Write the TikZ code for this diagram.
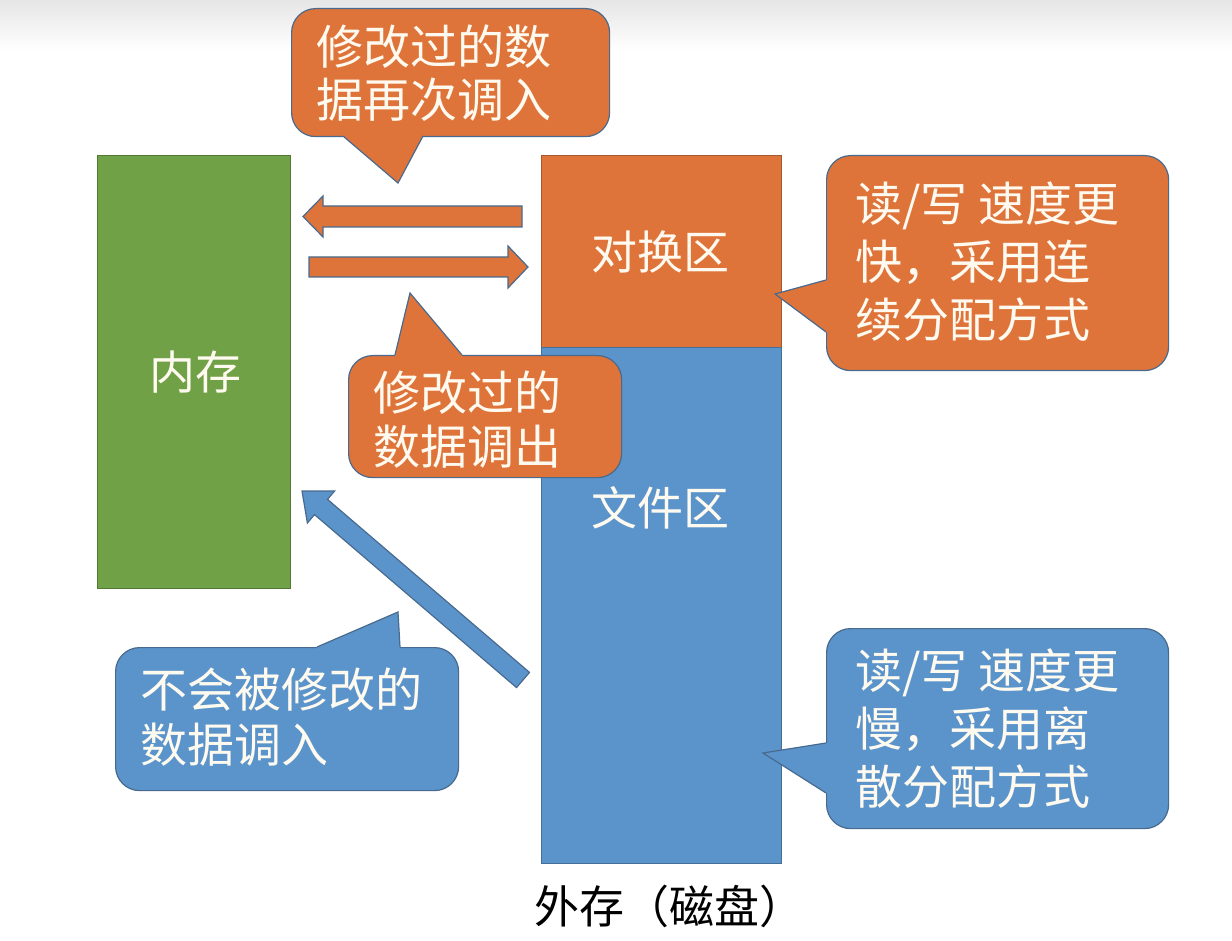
\documentclass[tikz,border=0pt]{standalone}
\usepackage{fontspec}
\setmainfont{Noto Sans CJK SC}
\newfontfamily\cjk{Noto Sans CJK SC}
\definecolor{org}{RGB}{223,116,58}
\definecolor{grn}{RGB}{112,161,70}
\definecolor{blu}{RGB}{91,148,202}
\definecolor{edge}{RGB}{72,106,142}
\definecolor{txt}{RGB}{255,250,240}
\begin{document}
\begin{tikzpicture}[x=1pt,y=-1pt,
  regionbox/.style={draw=#1!75!black, fill=#1, line width=1pt, inner sep=0pt, anchor=north west},
  lbl/.style={text=txt, font=\cjk\fontsize{46}{52}\selectfont, inner sep=0pt},
  ctext/.style={text=txt, font=\cjk\fontsize{47}{#1}\selectfont, align=left, anchor=west, inner sep=0pt},
  body/.style={draw=edge, fill=#1, line width=1.2pt, rounded corners=24pt, inner sep=0pt, anchor=north west},
  tailfill/.style={fill=#1},
  tailedge/.style={draw=edge, line width=1.2pt, line join=miter},
  blockarrow/.style={fill=#1, draw=edge, line width=1.2pt, line join=miter}]
\useasboundingbox (0,0) rectangle (1232,941);
\fill[top color=black!10, bottom color=white] (0,0) rectangle (1232,50);

% regions
\node[regionbox=grn, minimum width=193pt, minimum height=433pt] (mem) at (97,155) {};
\node[lbl] (memlbl) at (195,372) {内存};
\node[regionbox=org, minimum width=240pt, minimum height=192pt] (swap) at (541,155) {};
\node[regionbox=blu, minimum width=240pt, minimum height=516pt] (file) at (541,347) {};
\node[lbl] (swaplbl) at (660,252) {对换区};
\node[lbl] (filelbl) at (660,508) {文件区};
\node[font=\cjk\fontsize{45}{50}\selectfont, text=black, inner sep=0pt] (cap) at (669,906) {外存（磁盘）};

% block arrows
\draw[blockarrow=org] (522,206) -- (323,206) -- (323,196) -- (303,216.5) -- (323,237) -- (323,227) -- (522,227) -- cycle;
\draw[blockarrow=org] (309,257) -- (508,257) -- (508,246) -- (528,267) -- (508,288) -- (508,277) -- (309,277) -- cycle;
\draw[blockarrow=blu] (302,491) -- (334.6,491) -- (327.5,499.4) -- (529.5,672.4) -- (516.5,687.6) -- (314.5,514.6) -- (307.4,523) -- cycle;

% callout 1 (top)
\node[body=org, minimum width=318pt, minimum height=128pt] (c1) at (291,8) {};
\coordinate (c1a) at (343,136); \coordinate (c1t) at (398,183); \coordinate (c1b) at (423,136);
\fill[tailfill=org] (343,132) -- (c1a) -- (c1t) -- (c1b) -- (423,132) -- cycle;
\draw[tailedge] (c1a) -- (c1t) -- (c1b);
\node[ctext=53] (c1txt) at (316,73) {修改过的数\\据再次调入};

% callout 2 (middle)
\node[body=org, minimum width=273pt, minimum height=122pt] (c2) at (348,355) {};
\coordinate (c2a) at (395,355); \coordinate (c2t) at (410,293); \coordinate (c2b) at (462,355);
\fill[tailfill=org] (395,359) -- (c2a) -- (c2t) -- (c2b) -- (462,359) -- cycle;
\draw[tailedge] (c2a) -- (c2t) -- (c2b);
\node[ctext=54] (c2txt) at (373,420) {修改过的\\数据调出};

% callout 3 (bottom left)
\node[body=blu, minimum width=343pt, minimum height=143pt] (c3) at (115,647) {};
\coordinate (c3a) at (317,647); \coordinate (c3t) at (398,612); \coordinate (c3b) at (400,647);
\fill[tailfill=blu] (317,651) -- (c3a) -- (c3t) -- (c3b) -- (400,651) -- cycle;
\draw[tailedge] (c3a) -- (c3t) -- (c3b);
\node[ctext=55] (c3txt) at (140,717) {不会被修改的\\数据调入};

% callout 4 (right, orange)
\node[body=org, minimum width=342pt, minimum height=215pt] (c4) at (826,155) {};
\coordinate (c4a) at (826,280); \coordinate (c4t) at (775,294); \coordinate (c4b) at (826,332);
\fill[tailfill=org] (830,280) -- (c4a) -- (c4t) -- (c4b) -- (830,332) -- cycle;
\draw[tailedge] (c4a) -- (c4t) -- (c4b);
\node[ctext=58] (c4txt) at (855,262) {读/写 速度更\\快，采用连\\续分配方式};

% callout 5 (right, blue)
\node[body=blu, minimum width=342pt, minimum height=200pt] (c5) at (826,628) {};
\coordinate (c5a) at (826,743); \coordinate (c5t) at (763,753); \coordinate (c5b) at (826,793);
\fill[tailfill=blu] (830,743) -- (c5a) -- (c5t) -- (c5b) -- (830,793) -- cycle;
\draw[tailedge] (c5a) -- (c5t) -- (c5b);
\node[ctext=58] (c5txt) at (855,729) {读/写 速度更\\慢，采用离\\散分配方式};
\end{tikzpicture}
\end{document}
